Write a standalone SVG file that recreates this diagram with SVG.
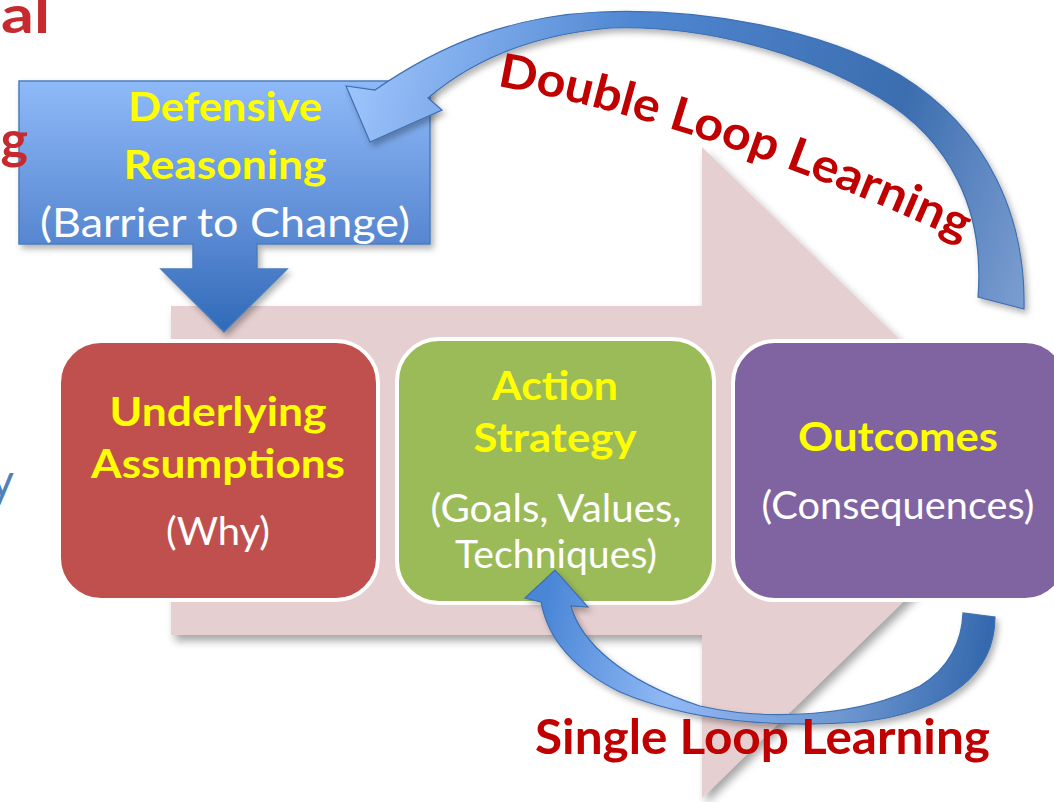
<svg xmlns="http://www.w3.org/2000/svg" width="1054" height="802" viewBox="0 0 1054 802">
<defs>
<style>
.t{font-family:Lato,"Liberation Sans",sans-serif;}
.yb{fill:#ffff00;font-weight:bold;font-size:41px;text-anchor:middle;}
.wr{fill:#ffffff;font-size:38px;text-anchor:middle;}
.red{fill:#c00000;font-weight:bold;}
.cut{fill:#c62a2f;font-weight:bold;font-size:52px;}
.box{stroke:#ffffff;stroke-width:4;}
</style>
<filter id="sh" x="-10%" y="-10%" width="130%" height="130%">
<feDropShadow dx="4" dy="6" stdDeviation="4" flood-color="#000" flood-opacity="0.35"/>
</filter>
<filter id="sh2" x="-10%" y="-10%" width="130%" height="130%">
<feDropShadow dx="3" dy="4" stdDeviation="3" flood-color="#000" flood-opacity="0.3"/>
</filter>
<linearGradient id="gDef" x1="0" y1="81" x2="0" y2="332" gradientUnits="userSpaceOnUse">
<stop offset="0" stop-color="#8fbaf9"/>
<stop offset="0.65" stop-color="#5686d0"/>
<stop offset="1" stop-color="#2f6ab8"/>
</linearGradient>
<linearGradient id="gDbl" x1="350" y1="100" x2="1030" y2="300" gradientUnits="userSpaceOnUse">
<stop offset="0" stop-color="#9cc3fb"/>
<stop offset="0.35" stop-color="#5087d2"/>
<stop offset="0.75" stop-color="#3b6daf"/>
<stop offset="1" stop-color="#7d9fd2"/>
</linearGradient>
<linearGradient id="gSgl" x1="550" y1="570" x2="990" y2="640" gradientUnits="userSpaceOnUse">
<stop offset="0" stop-color="#4a86d6"/>
<stop offset="0.3" stop-color="#8fb8f5"/>
<stop offset="0.7" stop-color="#6e97d0"/>
<stop offset="1" stop-color="#3468ad"/>
</linearGradient>
<path id="dlPath" d="M 497,86 Q 700,122 960,240"/>
</defs>
<rect width="1054" height="802" fill="#ffffff"/>

<g id="process-arrow">
<polygon points="171,306 702,306 702,147 1036,472 702,798 702,635 171,635" fill="#e6cfd0" filter="url(#sh)"/>
</g>

<g id="node-assumptions">
<rect class="box" x="59" y="341" width="319" height="259" rx="42" fill="#c0504d"/>
<text class="t yb" x="218" y="426" textLength="217" lengthAdjust="spacingAndGlyphs">Underlying</text>
<text class="t yb" x="218" y="478" textLength="254" lengthAdjust="spacingAndGlyphs">Assumptions</text>
<text class="t wr" x="218" y="545" textLength="104" lengthAdjust="spacingAndGlyphs">(Why)</text>
</g>

<g id="node-strategy">
<rect class="box" x="397" y="339" width="317" height="264" rx="42" fill="#9bbb59"/>
<text class="t yb" x="555" y="400" textLength="126" lengthAdjust="spacingAndGlyphs">Action</text>
<text class="t yb" x="555" y="452" textLength="163" lengthAdjust="spacingAndGlyphs">Strategy</text>
<text class="t wr" x="556" y="522" textLength="251" lengthAdjust="spacingAndGlyphs">(Goals, Values,</text>
<text class="t wr" x="556" y="568" textLength="202" lengthAdjust="spacingAndGlyphs">Techniques)</text>
</g>

<g id="node-outcomes">
<rect class="box" x="733" y="341" width="334" height="259" rx="42" fill="#8064a2"/>
<text class="t yb" x="898" y="451" textLength="200" lengthAdjust="spacingAndGlyphs">Outcomes</text>
<text class="t wr" x="898" y="519" textLength="273" lengthAdjust="spacingAndGlyphs">(Consequences)</text>
</g>

<g id="node-defensive">
<path d="M19,81 H430 V244 H257 V269 H287 L224,332 L161,269 H193 V244 H19 Z" fill="url(#gDef)" stroke="#4a7ebb" stroke-width="1.5" filter="url(#sh2)"/>
<text class="t yb" x="225" y="121" textLength="194" lengthAdjust="spacingAndGlyphs">Defensive</text>
<text class="t yb" x="225" y="179" textLength="203" lengthAdjust="spacingAndGlyphs">Reasoning</text>
<text class="t wr" x="225" y="237" style="font-size:41px" textLength="370" lengthAdjust="spacingAndGlyphs">(Barrier to Change)</text>
</g>

<g id="cut-texts" class="t">
<text class="cut" x="1" y="33" textLength="49" lengthAdjust="spacingAndGlyphs">al</text>
<text class="cut" x="28" y="158" text-anchor="end">g</text>
<text x="14" y="497" style="font-size:46px;fill:#4f81bd" text-anchor="end">y</text>
</g>

<g id="connectors">
<path id="double-loop" d="M1024,309 C1026,220 990,130 900,75 C820,28 700,8 600,12 C510,16 440,45 375,90 L346,86 L370,142 L442,110 L428,98 C470,62 530,35 610,28 C700,25 800,50 880,98 C950,140 985,210 978,297 Z" fill="url(#gDbl)" stroke="#3e6fb0" stroke-width="1.2" filter="url(#sh2)"/>
<path id="single-loop" d="M995,617 C995,672 950,712 860,722 C780,728 690,722 620,692 C575,670 548,640 541,602 L525,598 L555,570 L588,607 L571,606 C580,640 620,680 700,706 C770,722 860,716 920,686 C950,668 962,640 963,613 Z" fill="url(#gSgl)" stroke="#3e6fb0" stroke-width="1.2" filter="url(#sh2)"/>
</g>

<g id="labels" class="t">
<text class="red" style="font-size:47px"><textPath href="#dlPath" textLength="492" lengthAdjust="spacingAndGlyphs">Double Loop Learning</textPath></text>
<text class="red" x="535" y="754" style="font-size:47px" textLength="455" lengthAdjust="spacingAndGlyphs">Single Loop Learning</text>
</g>
</svg>
